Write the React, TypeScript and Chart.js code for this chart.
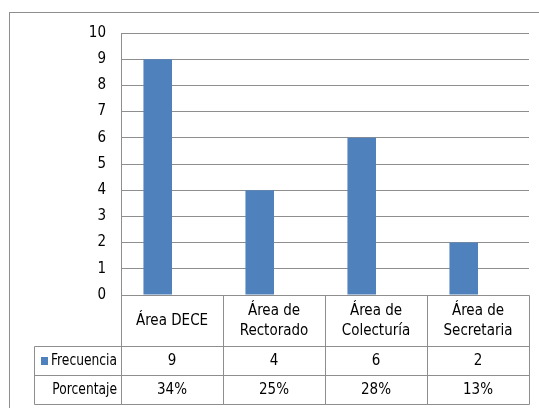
import React, { useEffect, useRef } from "react";
import { Chart, registerables } from "chart.js";

Chart.register(...registerables);

const categories = ["Área DECE", "Área de Rectorado", "Área de Colecturía", "Área de Secretaria"];
const frecuencia = [9, 4, 6, 2];
const porcentaje = ["34%", "25%", "28%", "13%"];
const seriesNames = ["Frecuencia", "Porcentaje"];
const yMin = 0;
const yMax = 10;
const yStep = 1;

const FONT = '"Liberation Sans Narrow", "DejaVu Sans Condensed", "Arial Narrow", sans-serif';
const GRID = "#8e8e8e";
const BLUE = "#4f81bd";

function wrap(ctx: CanvasRenderingContext2D, text: string, maxW: number): string[] {
  if (ctx.measureText(text).width <= maxW) return [text];
  const words = text.split(" ");
  const lines: string[] = [];
  let cur = "";
  for (const w of words) {
    const test = cur ? cur + " " + w : w;
    if (ctx.measureText(test).width > maxW && cur) {
      lines.push(cur);
      cur = w;
    } else cur = test;
  }
  if (cur) lines.push(cur);
  return lines;
}

const tablePlugin = {
  id: "dataTable",
  afterDraw(chart: any) {
    const ctx: CanvasRenderingContext2D = chart.ctx;
    const { left, right, top, bottom } = chart.chartArea;
    const n = categories.length;
    const cw = (right - left) / n;
    const headerBottom = bottom + 51;
    const row1Bottom = headerBottom + 29;
    const row2Bottom = row1Bottom + 29;
    const tableLeft = 34;
    const px = (v: number) => Math.round(v) + 0.5;

    ctx.save();
    ctx.strokeStyle = GRID;
    ctx.lineWidth = 1;
    ctx.strokeRect(9.5, 12.5, 700, 600);

    ctx.beginPath();
    ctx.moveTo(px(left), px(top));
    ctx.lineTo(px(left), px(row2Bottom));
    for (let i = 1; i <= n; i++) {
      const x = px(left + cw * i);
      ctx.moveTo(x, px(bottom));
      ctx.lineTo(x, px(row2Bottom));
    }
    ctx.moveTo(px(left), px(bottom));
    ctx.lineTo(px(right), px(bottom));
    for (const y of [headerBottom, row1Bottom, row2Bottom]) {
      ctx.moveTo(px(tableLeft), px(y));
      ctx.lineTo(px(right), px(y));
    }
    ctx.moveTo(px(tableLeft), px(headerBottom));
    ctx.lineTo(px(tableLeft), px(row2Bottom));
    ctx.stroke();

    ctx.fillStyle = "#000";
    ctx.font = `15px ${FONT}`;
    ctx.textAlign = "center";
    ctx.textBaseline = "middle";
    const hc = (bottom + headerBottom) / 2 + 0.5;
    for (let i = 0; i < n; i++) {
      const cx = left + cw * (i + 0.5);
      const lines = wrap(ctx, categories[i], cw - 10);
      const lh = 20;
      lines.forEach((l, j) => {
        ctx.fillText(l, cx, hc + (j - (lines.length - 1) / 2) * lh);
      });
      ctx.fillText(String(frecuencia[i]), cx, (headerBottom + row1Bottom) / 2 + 0.5);
      ctx.fillText(porcentaje[i], cx, (row1Bottom + row2Bottom) / 2 + 1);
    }
    // row labels, condensed horizontally to fit the header column
    ctx.textAlign = "right";
    const maxLabel = 66;
    const tw0 = ctx.measureText(seriesNames[0]).width;
    const sx = Math.min(1, maxLabel / tw0);
    const rowYs = [(headerBottom + row1Bottom) / 2 + 0.5, (row1Bottom + row2Bottom) / 2 + 1];
    seriesNames.forEach((name, k) => {
      ctx.save();
      ctx.translate(left - 4, rowYs[k]);
      ctx.scale(sx, 1);
      ctx.fillText(name, 0, 0);
      ctx.restore();
    });
    const tw = tw0 * sx;
    ctx.fillStyle = BLUE;
    ctx.fillRect(Math.round(left - 4 - tw - 10), Math.round(rowYs[0] - 4), 7, 8);
    ctx.restore();
  },
};

export default function App() {
  const ref = useRef<HTMLCanvasElement>(null);
  useEffect(() => {
    if (!ref.current) return;
    const chart = new Chart(ref.current, {
      type: "bar",
      data: {
        labels: categories,
        datasets: [
          {
            label: seriesNames[0],
            data: frecuencia,
            backgroundColor: BLUE,
            borderWidth: 0,
            categoryPercentage: 0.56,
            barPercentage: 1,
          },
          {
            label: seriesNames[1],
            data: porcentaje.map(() => null),
            backgroundColor: "rgba(0,0,0,0)",
            borderWidth: 0,
            categoryPercentage: 0.56,
            barPercentage: 1,
          },
        ],
      },
      options: {
        responsive: false,
        animation: false,
        devicePixelRatio: 1,
        layout: { padding: { top: 33, right: 10, bottom: 113, left: 0 } },
        plugins: { legend: { display: false }, tooltip: { enabled: false } },
        scales: {
          x: { display: false },
          y: {
            min: yMin,
            max: yMax,
            afterFit: (s: any) => {
              s.width = 121;
            },
            grid: { color: GRID, drawTicks: false },
            border: { display: false },
            ticks: {
              stepSize: yStep,
              padding: 15,
              color: "#000",
              font: { family: FONT, size: 15 },
            },
          },
        },
      },
      plugins: [tablePlugin],
    });
    return () => chart.destroy();
  }, []);
  return (
    <div style={{ position: "fixed", left: 0, top: 0, width: 539, height: 408, background: "#fff" }}>
      <canvas ref={ref} width={539} height={408} style={{ width: 539, height: 408, display: "block" }} />
    </div>
  );
}
